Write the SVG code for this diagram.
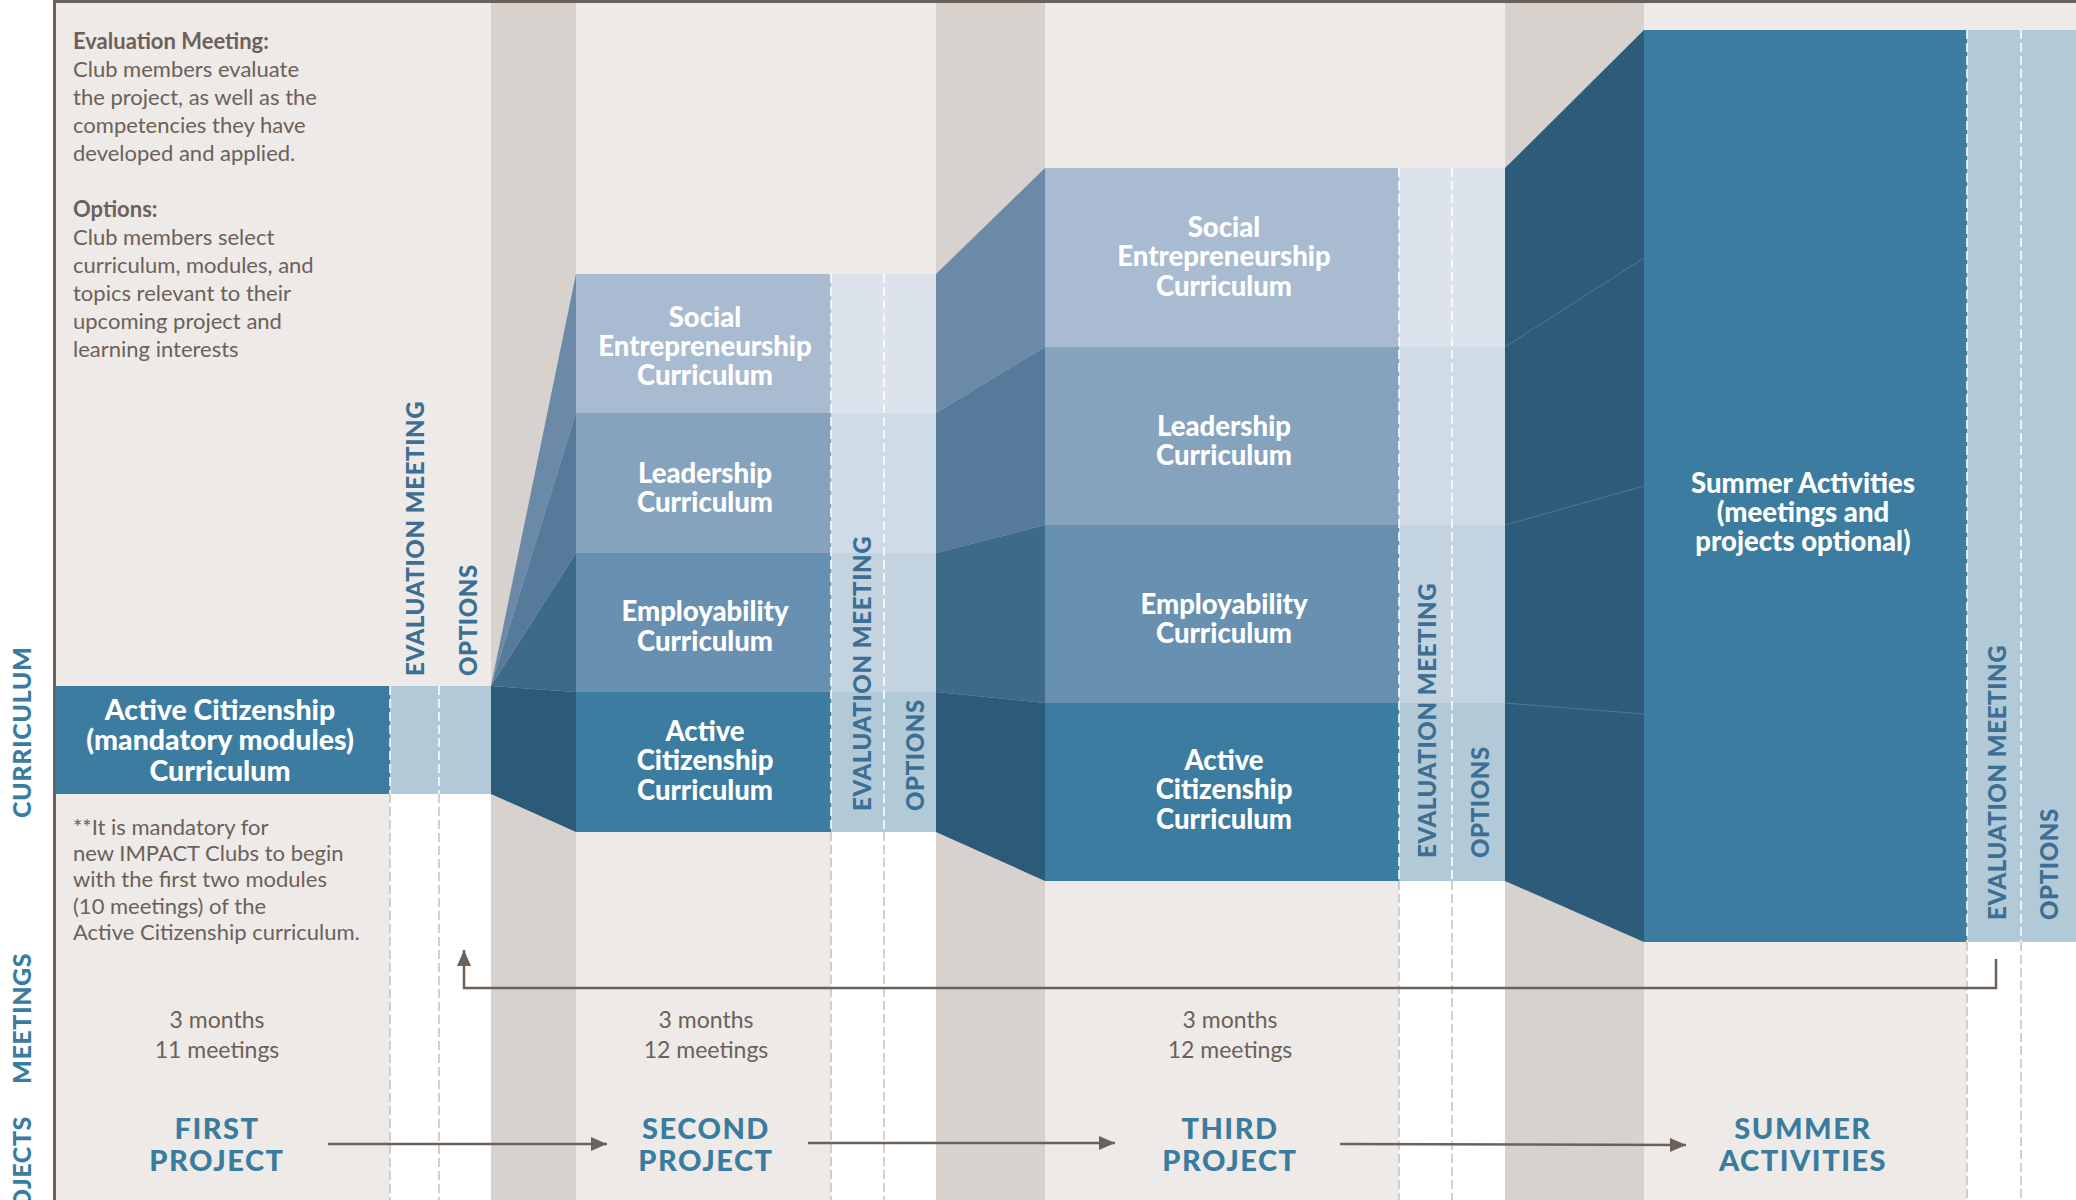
<svg xmlns="http://www.w3.org/2000/svg" width="2076" height="1200" viewBox="0 0 2076 1200">
<style>
.body{font-family:Lato,'Liberation Sans',sans-serif;font-size:22px;fill:#6b6159}
.bold{font-weight:bold}
.box{font-family:Lato,'Liberation Sans',sans-serif;font-weight:900;font-size:27.5px;fill:#ffffff;text-anchor:middle}
.vl{font-family:Lato,'Liberation Sans',sans-serif;font-weight:900;font-size:24px;fill:#3c6f93;letter-spacing:0.6px}
.side{font-family:Lato,'Liberation Sans',sans-serif;font-weight:900;font-size:25px;fill:#3a7ca0;letter-spacing:0.6px}
.proj{font-family:Lato,'Liberation Sans',sans-serif;font-weight:900;font-size:29px;fill:#3a7ca0;text-anchor:middle;letter-spacing:1.5px}
.meet{font-family:Lato,'Liberation Sans',sans-serif;font-size:23px;fill:#6b6159;text-anchor:middle}
.dw{stroke:#ffffff;stroke-width:1.5;stroke-dasharray:9 4;fill:none}
.dg{stroke:#c9c1bb;stroke-width:1.5;stroke-dasharray:9 4;fill:none}
.conn{stroke:#6b6159;stroke-width:2.5;fill:none}
.act{fill:#3b7ca0}.emp{fill:#6890b1}.lea{fill:#86a3bd}.soc{fill:#a9bbd0}
.xact{fill:#b2c9d8}.xemp{fill:#c3d4e0}.xlea{fill:#cfdbe6}.xsoc{fill:#dce3ec}
.tact{fill:#2c5b79}.temp{fill:#3d6a89}.tlea{fill:#567a99}.tsoc{fill:#6a8aa8}
.seam{stroke:#6f8ea6;stroke-width:0.8;opacity:0.7}
</style>
<defs>
<marker id="arr" viewBox="0 0 16 14" refX="16" refY="7" markerWidth="16" markerHeight="14" markerUnits="userSpaceOnUse" orient="auto">
<path d="M0,0 L16,7 L0,14 Z" fill="#6b6159"/>
</marker>
</defs>

<g id="background">
<rect x="0" y="0" width="2076" height="1200" fill="#ffffff"/>
<rect x="54" y="0" width="2022" height="1200" fill="#eeeae7"/>
<rect x="491" y="0" width="85" height="1200" fill="#d7d2ce"/>
<rect x="936" y="0" width="109" height="1200" fill="#d7d2ce"/>
<rect x="1505" y="0" width="139" height="1200" fill="#d7d2ce"/>
<rect x="390" y="794" width="101" height="406" fill="#ffffff"/>
<rect x="831" y="832" width="105" height="368" fill="#ffffff"/>
<rect x="1399" y="881" width="106" height="319" fill="#ffffff"/>
<rect x="1967" y="942" width="109" height="258" fill="#ffffff"/>
<line x1="54.5" y1="0" x2="54.5" y2="1200" stroke="#6b6159" stroke-width="3"/>
<line x1="54" y1="1.5" x2="2076" y2="1.5" stroke="#6b6159" stroke-width="3"/>
</g>

<g id="side-labels">
<text class="side" transform="translate(31,818) rotate(-90)">CURRICULUM</text>
<text class="side" transform="translate(31,1084) rotate(-90)">MEETINGS</text>
<text class="side" transform="translate(31,1116) rotate(-90)" text-anchor="end">PROJECTS</text>
</g>

<g id="legend">
<text class="body"><tspan class="bold" x="73" y="49">Evaluation Meeting:</tspan><tspan x="73" y="77">Club members evaluate</tspan><tspan x="73" y="105">the project, as well as the</tspan><tspan x="73" y="133">competencies they have</tspan><tspan x="73" y="161">developed and applied.</tspan><tspan class="bold" x="73" y="217">Options:</tspan><tspan x="73" y="245">Club members select</tspan><tspan x="73" y="273">curriculum, modules, and</tspan><tspan x="73" y="301">topics relevant to their</tspan><tspan x="73" y="329">upcoming project and</tspan><tspan x="73" y="357">learning interests</tspan></text>
</g>

<g id="note">
<text class="body"><tspan x="73" y="835">**It is mandatory for</tspan><tspan x="73" y="861">new IMPACT Clubs to begin</tspan><tspan x="73" y="887">with the first two modules</tspan><tspan x="73" y="914">(10 meetings) of the</tspan><tspan x="73" y="940">Active Citizenship curriculum.</tspan></text>
</g>

<g id="transition-1">
<polygon class="tsoc" points="491,686 576,274 576,413"/>
<polygon class="tlea" points="491,686 576,413 576,553"/>
<polygon class="temp" points="491,686 576,553 576,692"/>
<polygon class="tact" points="491,686 576,692 576,832 491,794"/>
</g>

<g id="transition-2">
<polygon class="tsoc" points="936,274 1045,168 1045,347 936,413"/>
<polygon class="tlea" points="936,413 1045,347 1045,525 936,553"/>
<polygon class="temp" points="936,553 1045,525 1045,703 936,692"/>
<polygon class="tact" points="936,692 1045,703 1045,881 936,832"/>
</g>

<g id="transition-3">
<polygon points="1505,168 1644,30 1644,942 1505,881" fill="#2d5c7a"/>
<line class="seam" x1="1505" y1="347" x2="1644" y2="258"/>
<line class="seam" x1="1505" y1="525" x2="1644" y2="486"/>
<line class="seam" x1="1505" y1="703" x2="1644" y2="714"/>
</g>

<g id="first-active-citizenship">
<rect class="act" x="56" y="686" width="334" height="108"/>
<rect class="xact" x="390" y="686" width="101" height="108"/>
<text class="box" style="font-size:28.5px"><tspan x="220" y="720">Active Citizenship</tspan><tspan x="220" y="750">(mandatory modules)</tspan><tspan x="220" y="781">Curriculum</tspan></text>
</g>

<g id="second-social">
<rect class="soc" x="576" y="274" width="255" height="139"/>
<rect class="xsoc" x="831" y="274" width="105" height="139"/>
<text class="box"><tspan x="705" y="327">Social</tspan><tspan x="705" y="356">Entrepreneurship</tspan><tspan x="705" y="385">Curriculum</tspan></text>
</g>
<g id="second-leadership">
<rect class="lea" x="576" y="413" width="255" height="140"/>
<rect class="xlea" x="831" y="413" width="105" height="140"/>
<text class="box"><tspan x="705" y="483">Leadership</tspan><tspan x="705" y="512">Curriculum</tspan></text>
</g>
<g id="second-employability">
<rect class="emp" x="576" y="553" width="255" height="139"/>
<rect class="xemp" x="831" y="553" width="105" height="139"/>
<text class="box"><tspan x="705" y="621">Employability</tspan><tspan x="705" y="651">Curriculum</tspan></text>
</g>
<g id="second-active">
<rect class="act" x="576" y="692" width="255" height="140"/>
<rect class="xact" x="831" y="692" width="105" height="140"/>
<text class="box"><tspan x="705" y="741">Active</tspan><tspan x="705" y="770">Citizenship</tspan><tspan x="705" y="800">Curriculum</tspan></text>
</g>

<g id="third-social">
<rect class="soc" x="1045" y="168" width="354" height="179"/>
<rect class="xsoc" x="1399" y="168" width="106" height="179"/>
<text class="box"><tspan x="1224" y="237">Social</tspan><tspan x="1224" y="266">Entrepreneurship</tspan><tspan x="1224" y="296">Curriculum</tspan></text>
</g>
<g id="third-leadership">
<rect class="lea" x="1045" y="347" width="354" height="178"/>
<rect class="xlea" x="1399" y="347" width="106" height="178"/>
<text class="box"><tspan x="1224" y="436">Leadership</tspan><tspan x="1224" y="465">Curriculum</tspan></text>
</g>
<g id="third-employability">
<rect class="emp" x="1045" y="525" width="354" height="178"/>
<rect class="xemp" x="1399" y="525" width="106" height="178"/>
<text class="box"><tspan x="1224" y="614">Employability</tspan><tspan x="1224" y="643">Curriculum</tspan></text>
</g>
<g id="third-active">
<rect class="act" x="1045" y="703" width="354" height="178"/>
<rect class="xact" x="1399" y="703" width="106" height="178"/>
<text class="box"><tspan x="1224" y="770">Active</tspan><tspan x="1224" y="799">Citizenship</tspan><tspan x="1224" y="829">Curriculum</tspan></text>
</g>

<g id="summer">
<rect class="act" x="1644" y="30" width="323" height="912"/>
<rect class="xact" x="1967" y="30" width="109" height="912"/>
<text class="box"><tspan x="1803" y="493">Summer Activities</tspan><tspan x="1803" y="522">(meetings and</tspan><tspan x="1803" y="551">projects optional)</tspan></text>
</g>

<g id="dividers">
<line class="dw" x1="390" y1="686" x2="390" y2="794"/>
<line class="dw" x1="439" y1="686" x2="439" y2="794"/>
<line class="dg" x1="390" y1="794" x2="390" y2="1200"/>
<line class="dg" x1="439" y1="794" x2="439" y2="1200"/>
<line class="dw" x1="831" y1="274" x2="831" y2="832"/>
<line class="dw" x1="884" y1="274" x2="884" y2="832"/>
<line class="dg" x1="831" y1="832" x2="831" y2="1200"/>
<line class="dg" x1="884" y1="832" x2="884" y2="1200"/>
<line class="dw" x1="1399" y1="168" x2="1399" y2="881"/>
<line class="dw" x1="1452" y1="168" x2="1452" y2="881"/>
<line class="dg" x1="1399" y1="881" x2="1399" y2="1200"/>
<line class="dg" x1="1452" y1="881" x2="1452" y2="1200"/>
<line class="dw" x1="1967" y1="30" x2="1967" y2="942"/>
<line class="dw" x1="2021" y1="30" x2="2021" y2="942"/>
<line class="dg" x1="1967" y1="942" x2="1967" y2="1200"/>
<line class="dg" x1="2021" y1="942" x2="2021" y2="1200"/>
</g>

<g id="phase-labels">
<text class="vl" transform="translate(424,676) rotate(-90)">EVALUATION MEETING</text>
<text class="vl" transform="translate(477,676) rotate(-90)">OPTIONS</text>
<text class="vl" transform="translate(871,811) rotate(-90)">EVALUATION MEETING</text>
<text class="vl" transform="translate(924,811) rotate(-90)">OPTIONS</text>
<text class="vl" transform="translate(1436,858) rotate(-90)">EVALUATION MEETING</text>
<text class="vl" transform="translate(1489,858) rotate(-90)">OPTIONS</text>
<text class="vl" transform="translate(2006,920) rotate(-90)">EVALUATION MEETING</text>
<text class="vl" transform="translate(2058,920) rotate(-90)">OPTIONS</text>
</g>

<g id="meetings">
<text class="meet"><tspan x="217" y="1028">3 months</tspan><tspan x="217" y="1058">11 meetings</tspan></text>
<text class="meet"><tspan x="706" y="1028">3 months</tspan><tspan x="706" y="1058">12 meetings</tspan></text>
<text class="meet"><tspan x="1230" y="1028">3 months</tspan><tspan x="1230" y="1058">12 meetings</tspan></text>
</g>

<g id="project-first"><text class="proj"><tspan x="217" y="1139">FIRST</tspan><tspan x="217" y="1171">PROJECT</tspan></text></g>
<g id="project-second"><text class="proj"><tspan x="706" y="1139">SECOND</tspan><tspan x="706" y="1171">PROJECT</tspan></text></g>
<g id="project-third"><text class="proj"><tspan x="1230" y="1139">THIRD</tspan><tspan x="1230" y="1171">PROJECT</tspan></text></g>
<g id="project-summer"><text class="proj"><tspan x="1803" y="1139">SUMMER</tspan><tspan x="1803" y="1171">ACTIVITIES</tspan></text></g>

<g id="connectors">
<line class="conn" x1="328" y1="1144" x2="607" y2="1144" marker-end="url(#arr)"/>
<line class="conn" x1="808" y1="1143" x2="1115" y2="1143" marker-end="url(#arr)"/>
<line class="conn" x1="1340" y1="1144" x2="1686" y2="1145" marker-end="url(#arr)"/>
<polyline class="conn" points="1996,959 1996,988 464,988 464,950" marker-end="url(#arr)"/>
</g>
</svg>
